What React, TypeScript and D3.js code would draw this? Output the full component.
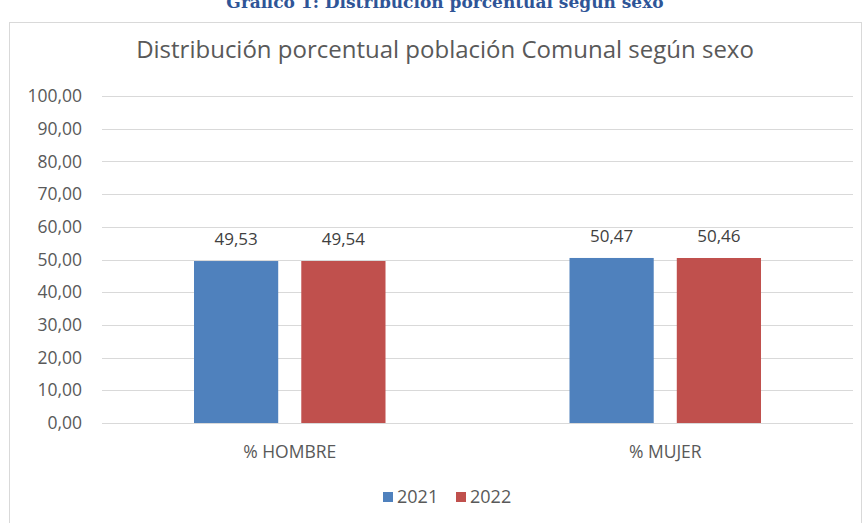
import React, { useEffect, useRef } from 'react';
import * as d3 from 'd3';

const width = 865;
const height = 523;
const margin = { top: 96, left: 102, bottom: 100, right: 12 };

const categories = ['% HOMBRE', '% MUJER'];
const years = ['2021', '2022'];
const values2021 = [49.53, 50.47];
const values2022 = [49.54, 50.46];
const yTicks = [0, 10, 20, 30, 40, 50, 60, 70, 80, 90, 100];
const colors = ['#4F81BD', '#C0504D'];

const fmt = (v: number) => v.toFixed(2).replace('.', ',');

const App = () => {
    const ref = useRef<SVGSVGElement>(null);

    useEffect(() => {
        const svg = d3.select(ref.current);
        svg.selectAll('*').remove();

        const font = "'Open Sans', 'Noto Sans', sans-serif";
        const rows = categories.map((c, i) => ({ name: c, vals: [values2021[i], values2022[i]] }));

        const x = d3.scaleBand()
            .domain(categories)
            .range([margin.left, width - margin.right])
            .paddingInner(0.49)
            .paddingOuter(0.245);

        const xSub = d3.scaleBand()
            .domain(years)
            .range([0, x.bandwidth()])
            .paddingInner(0.215);

        const y = d3.scaleLinear()
            .domain([0, 100])
            .range([height - margin.bottom, margin.top]);

        // caption (cut at top in the source)
        svg.append('text')
            .attr('x', 445).attr('y', 8)
            .attr('text-anchor', 'middle')
            .attr('font-family', "'DejaVu Serif', serif")
            .attr('font-weight', 'bold')
            .attr('font-size', 17)
            .attr('fill', '#2F5597')
            .text('Gráfico 1: Distribución porcentual según sexo');

        // frame
        svg.append('rect')
            .attr('x', 9.5).attr('y', 22.5)
            .attr('width', 852).attr('height', 510)
            .attr('fill', 'white')
            .attr('stroke', '#D9D9D9');

        svg.append('text')
            .attr('x', 445).attr('y', 58)
            .attr('text-anchor', 'middle')
            .attr('font-family', font)
            .attr('font-size', 24)
            .attr('fill', '#595959')
            .text('Distribución porcentual población Comunal según sexo');

        // grid
        svg.append('g')
            .selectAll('line')
            .data(yTicks)
            .join('line')
            .attr('x1', margin.left).attr('x2', width - margin.right)
            .attr('y1', d => Math.round(y(d)) + 0.5).attr('y2', d => Math.round(y(d)) + 0.5)
            .attr('stroke', '#D9D9D9')
            .attr('stroke-width', 1);

        svg.append('g')
            .selectAll('text')
            .data(yTicks)
            .join('text')
            .attr('x', 82).attr('y', d => y(d))
            .attr('dy', '0.35em')
            .attr('text-anchor', 'end')
            .attr('font-family', font)
            .attr('font-size', 17.5)
            .attr('fill', '#595959')
            .text(d => fmt(d));

        const groups = svg.append('g')
            .selectAll('g')
            .data(rows)
            .join('g')
            .attr('transform', d => `translate(${x(d.name)},0)`);

        groups.selectAll('rect')
            .data(d => d.vals.map((v, i) => ({ key: years[i], v, i })))
            .join('rect')
            .attr('x', d => xSub(d.key)!)
            .attr('y', d => y(d.v))
            .attr('width', xSub.bandwidth())
            .attr('height', d => y(0) - y(d.v))
            .attr('fill', d => colors[d.i]);

        groups.selectAll('text.val')
            .data(d => d.vals.map((v, i) => ({ key: years[i], v, i })))
            .join('text')
            .attr('class', 'val')
            .attr('x', d => xSub(d.key)! + xSub.bandwidth() / 2)
            .attr('y', d => y(d.v) - 16)
            .attr('text-anchor', 'middle')
            .attr('font-family', font)
            .attr('font-size', 17)
            .attr('fill', '#404040')
            .text(d => fmt(d.v));

        svg.append('g')
            .selectAll('text')
            .data(categories)
            .join('text')
            .attr('x', d => x(d)! + x.bandwidth() / 2)
            .attr('y', 452)
            .attr('dy', '0.35em')
            .attr('text-anchor', 'middle')
            .attr('font-family', font)
            .attr('font-size', 17.5)
            .attr('fill', '#595959')
            .text(d => d);

        // legend
        const legend = svg.append('g')
            .selectAll('g')
            .data(years)
            .join('g')
            .attr('transform', (d, i) => `translate(${383 + i * 73},0)`);

        legend.append('rect')
            .attr('x', 0).attr('y', 492)
            .attr('width', 10).attr('height', 10)
            .attr('fill', (d, i) => colors[i]);

        legend.append('text')
            .attr('x', 14).attr('y', 497)
            .attr('dy', '0.35em')
            .attr('font-family', font)
            .attr('font-size', 18)
            .attr('fill', '#595959')
            .text(d => d);
    }, []);

    return (
        <svg ref={ref} width={width} height={height} style={{ position: 'absolute', left: 0, top: 0, background: 'white' }}></svg>
    );
};

export default App;
